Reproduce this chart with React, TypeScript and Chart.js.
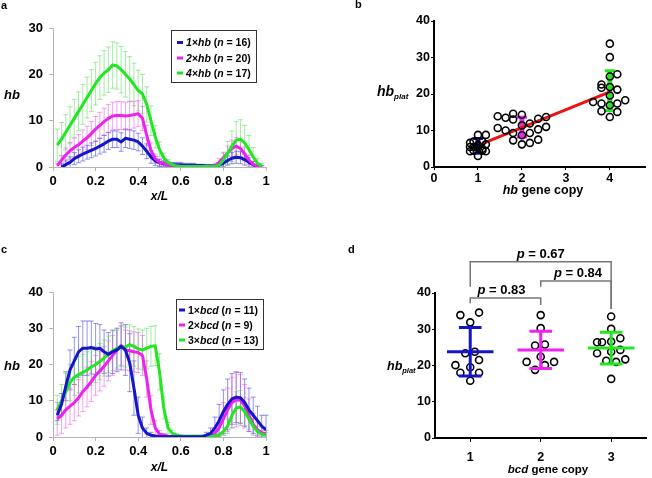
import React, { useEffect, useRef } from 'react';
import { Chart, registerables } from 'chart.js';
Chart.register(...registerables);

const FAM = '"Liberation Sans", Arial, Helvetica, sans-serif';
const BLUE = '#1414c8';
const MAGENTA = '#ee22ee';
const GREEN = '#22e622';
const BLUE_E = 'rgba(60,60,220,0.55)';
const MAGENTA_E = 'rgba(235,70,235,0.5)';
const GREEN_E = 'rgba(70,220,70,0.5)';

// ---------- Panel a ----------
const posA = [0.02,0.04,0.06,0.08,0.10,0.12,0.14,0.16,0.18,0.20,0.22,0.24,0.26,0.28,0.30,0.32,0.34,0.36,0.38,0.40,0.42,0.44,0.46,0.48,0.50,0.52,0.54,0.56,0.58,0.60,0.62,0.64,0.66,0.68,0.70,0.72,0.74,0.76,0.78,0.80,0.82,0.84,0.86,0.88,0.90,0.92,0.94,0.96,0.98];
const hb1 = [null,0,0.5,1.0,1.8,2.3,2.8,3.2,3.6,4.0,4.5,5.0,5.6,6.0,6.0,5.4,6.2,6.0,5.8,5.4,4.5,3.4,2.2,1.3,0.9,0.7,0.6,0.5,0.5,0.5,0.4,0.4,0.4,0.3,0.3,0.2,0.2,0.2,0.4,0.8,1.4,1.9,2.1,2.0,1.6,1.0,0.5,0.1,0];
const hb1Err = [null,0.8,1.0,1.2,1.3,1.4,1.5,1.5,1.6,1.6,1.7,1.8,1.8,1.8,1.8,2.0,2.0,2.0,2.0,1.9,1.8,1.6,1.4,1.0,0.8,0.6,0.5,0.5,0.5,0.5,0.4,0.4,0.4,0.3,0.3,0.3,0.3,0.3,0.5,0.8,1.0,1.2,1.3,1.3,1.2,1.0,0.7,0.4,0.3];
const hb2 = [0.3,1.5,2.6,3.5,4.2,4.8,5.6,6.3,7.2,8.2,9.0,9.8,10.5,11.0,11.1,11.1,11.0,11.1,11.3,11.5,10.5,6.8,3.6,1.8,1.0,0.8,0.5,0.3,0.2,0.1,0.1,0.1,0.1,0.1,0.1,0.1,0.1,0.3,1.0,2.0,3.0,4.0,4.5,4.0,2.8,1.5,0.6,0.2,0.1];
const hb2Err = [0.5,1.0,1.5,1.8,2.0,2.2,2.4,2.5,2.6,2.7,2.8,2.9,3.0,3.0,3.0,3.0,3.0,3.0,2.9,2.8,2.6,2.2,1.6,1.0,0.7,0.5,0.4,0.3,0.3,0.2,0.2,0.2,0.2,0.2,0.2,0.2,0.2,0.4,0.8,1.2,1.5,1.8,1.9,1.8,1.5,1.0,0.6,0.3,0.2];
const hb4 = [4.7,6.0,7.5,9.0,10.5,12.0,13.5,15.0,16.5,18.0,19.3,20.3,21.0,22.0,21.8,21.0,20.0,19.0,17.8,16.5,15.8,13.5,10.0,6.5,3.8,2.0,1.0,0.5,0.2,0.1,0.1,0.1,0.1,0.1,0.1,0.1,0.1,0.1,0.4,1.5,3.0,4.5,5.8,6.0,5.2,3.8,2.2,0.8,0.2];
const hb4Err = [3.5,3.6,3.8,4.0,4.1,4.2,4.3,4.4,4.5,4.6,4.7,4.8,4.9,5.0,5.0,5.0,4.9,4.8,4.6,4.4,4.2,3.8,3.2,2.4,1.6,1.0,0.6,0.4,0.2,0.2,0.2,0.2,0.2,0.2,0.2,0.2,0.2,0.2,0.6,1.5,2.5,3.3,4.0,4.2,3.8,3.0,2.0,1.0,0.6];
const copiesA = ['1', '2', '4'];
const nA = [16, 20, 17];
const xTicksA = [0, 0.2, 0.4, 0.6, 0.8, 1];
const yTicksA = [0, 10, 20, 30];

// ---------- Panel c ----------
const posC = [0.02,0.04,0.06,0.08,0.10,0.12,0.14,0.16,0.18,0.20,0.22,0.24,0.26,0.28,0.30,0.32,0.34,0.36,0.38,0.40,0.42,0.44,0.46,0.48,0.50,0.52,0.54,0.56,0.58,0.60,0.62,0.64,0.66,0.68,0.70,0.72,0.74,0.76,0.78,0.80,0.82,0.84,0.86,0.88,0.90,0.92,0.94,0.96,0.98,1.00];
const bcd1 = [6.0,9.0,14.0,18.5,21.0,23.5,24.5,24.5,24.7,24.3,24.5,23.5,22.8,23.5,24.0,25.0,24.0,20.5,13.5,6.0,2.5,1.0,0.5,0.2,0.1,0.1,0.1,0.1,0.1,0.1,0.1,0.1,0.1,0.1,0.1,0.5,1.0,2.5,4.5,7.0,9.0,10.5,11.0,10.8,9.5,7.5,6.0,4.5,3.0,2.0];
const bcd1Err = [1.5,3.0,4.0,5.5,6.5,7.0,7.5,7.5,7.3,7.0,6.5,6.0,6.0,6.0,6.0,6.5,7.0,8.0,7.5,5.0,3.0,1.5,0.8,0.4,0.3,0.3,0.3,0.3,0.3,0.3,0.3,0.3,0.3,0.3,0.3,0.8,1.5,3.0,4.5,6.0,7.0,7.0,7.0,7.0,6.5,6.0,5.0,4.0,3.0,4.0];
const bcd2 = [5.0,6.0,7.5,8.5,9.5,10.8,12.5,13.8,15.3,17.0,18.2,19.5,21.0,22.5,24.0,25.3,24.0,23.8,23.5,23.3,22.5,16.0,7.5,2.5,0.8,0.5,0.2,0.1,0.1,0.1,0.1,0.1,0.1,0.1,0.1,0.1,0.3,1.0,2.5,5.0,7.5,9.5,10.3,10.2,8.5,6.0,3.5,2.0,1.2,0.8];
const bcd2Err = [4.5,5.0,5.0,5.0,5.0,5.0,5.5,5.5,5.5,5.5,5.5,5.5,5.5,5.5,5.5,5.5,5.5,5.5,5.5,5.5,5.5,5.0,4.0,2.0,1.0,0.5,0.3,0.2,0.2,0.2,0.2,0.2,0.2,0.2,0.2,0.2,0.5,1.5,3.0,4.5,6.0,7.0,7.5,7.0,6.0,4.5,3.0,2.0,1.5,1.0];
const bcd3 = [7.5,10.0,12.5,15.0,16.5,17.2,17.8,18.5,19.3,20.0,20.8,21.8,22.8,23.8,24.5,25.0,24.8,25.5,25.0,24.3,24.0,24.5,25.0,25.2,18.0,8.0,2.5,1.0,0.5,0.3,0.2,0.2,0.2,0.2,0.2,0.2,0.2,0.3,0.6,1.5,3.0,6.0,8.0,8.3,7.0,5.0,3.0,1.5,0.8,0.5];
const bcd3Err = [4.0,4.5,5.0,5.0,5.0,5.0,5.0,5.0,5.0,5.0,5.0,5.0,5.0,5.5,5.5,5.5,5.5,5.5,5.5,5.5,5.5,5.5,5.5,5.5,5.0,3.0,1.5,0.8,0.4,0.3,0.3,0.3,0.3,0.3,0.3,0.3,0.3,0.3,0.5,1.0,2.0,3.5,4.5,4.5,4.0,3.0,2.0,1.5,1.0,0.8];
const copiesC = ['1', '2', '3'];
const nC = [11, 9, 13];
const yTicksC = [0, 10, 20, 30, 40];

// ---------- Panel b ----------
const b1X = [0.82,0.82,0.82,0.9,0.9,0.9,1.0,1.0,1.0,1.1,1.1,1.1,1.18,1.18,1.18,1.0];
const b1Y = [6.6,5.5,4.3,7.0,5.5,4.5,8.8,6.0,3.0,7.0,5.0,4.5,8.8,6.2,4.3,5.2];
const b2X = [1.45,1.45,1.63,1.63,1.8,1.8,1.8,1.8,2.0,2.0,2.0,2.0,2.18,2.18,2.18,2.37,2.37,2.37,2.55,2.55];
const b2Y = [13.9,10.7,13.5,10.0,14.6,13.0,9.3,7.3,14.3,11.4,8.7,6.2,11.9,9.3,6.6,13.2,10.3,7.5,13.7,11.0];
const b4X = [3.62,3.81,3.81,3.81,3.81,4.0,4.0,4.0,4.0,4.0,4.0,4.0,4.17,4.17,4.17,4.17,4.35];
const b4Y = [17.8,22.6,21.7,17.4,15.3,33.8,30.1,24.8,21.9,19.6,16.9,13.7,25.4,21.2,17.4,15.1,18.3];
const bCopies = [1, 2, 4];
const bMean = [5.8, 10.9, 20.9];
const bSd = [2.0, 2.7, 5.5];
const bColors = [BLUE, MAGENTA, GREEN];
const fitX = [1.1, 4.0];
const fitY = [6.4, 20.6];
const xTicksB = [0, 1, 2, 3, 4];
const yTicksB = [0, 10, 20, 30, 40];

// ---------- Panel d ----------
const d1X = [0.86,1.125,1.0,0.93,1.065,1.125,0.79,1.0,0.86,1.125,1.0];
const d1Y = [33.9,34.6,31.9,23.4,23.8,21.5,20.1,19.5,18.0,18.0,15.8];
const d2X = [2.0,2.0,1.92,2.06,2.0,1.8,2.19,2.06,1.92];
const d2Y = [33.9,30.3,25.5,25.8,22.4,21.0,21.0,20.1,18.8];
const d3X = [3.0,3.0,2.8,2.87,3.0,3.13,2.8,3.0,3.13,2.93,3.07,3.2,3.0];
const d3Y = [33.5,30.1,26.4,26.4,26.6,27.5,23.4,23.8,24.3,21.3,21.0,21.7,16.3];
const dCopies = [1, 2, 3];
const dMean = [23.8, 24.3, 24.8];
const dSd = [6.7, 5.15, 4.4];
const dColors = [BLUE, MAGENTA, GREEN];
const pLabels = ['0.83', '0.84', '0.67'];
const pFrom = [1, 2, 1];
const pTo = [2, 3, 3];
const pLevel = [38.6, 43.3, 48.6];
const pDropL = [37.2, 41.7, 41.7];
const pDropR = [36.7, 35.6, 35.6];
const xTicksD = [1, 2, 3];
const yTicksD = [0, 10, 20, 30, 40];

// ---------- helpers ----------
type Run = { t: string; it?: boolean; size?: number; dy?: number; bold?: boolean };
function fnt(size: number, it?: boolean, bold = true) {
  return `${it ? 'italic ' : ''}${bold ? 'bold ' : ''}${size}px ${FAM}`;
}
function drawRuns(ctx: CanvasRenderingContext2D, list: Run[], x: number, y: number, align: 'left' | 'center' | 'right', base: number, color = '#000') {
  ctx.save();
  ctx.fillStyle = color;
  ctx.textAlign = 'left';
  ctx.textBaseline = 'alphabetic';
  let w = 0;
  for (const r of list) { ctx.font = fnt(r.size ?? base, r.it, r.bold ?? true); w += ctx.measureText(r.t).width; }
  let cx = align === 'left' ? x : align === 'center' ? x - w / 2 : x - w;
  for (const r of list) {
    ctx.font = fnt(r.size ?? base, r.it, r.bold ?? true);
    ctx.fillText(r.t, cx, y + (r.dy ?? 0));
    cx += ctx.measureText(r.t).width;
  }
  ctx.restore();
}
function drawLegend(ctx: CanvasRenderingContext2D, bx: number, by: number, bw: number, bh: number, colors: string[], items: Run[][], rows: number[], dashX: number, textX: number, size: number) {
  ctx.save();
  ctx.fillStyle = '#fff';
  ctx.fillRect(bx, by, bw, bh);
  ctx.strokeStyle = '#333';
  ctx.lineWidth = 1;
  ctx.strokeRect(bx + 0.5, by + 0.5, bw, bh);
  items.forEach((runs, i) => {
    ctx.fillStyle = colors[i];
    ctx.fillRect(dashX, rows[i] - 1.5, 6, 3);
    drawRuns(ctx, runs, textX, rows[i] + size * 0.36, 'left', size);
  });
  ctx.restore();
}

function axis(o: { min: number; max: number; ticks: number[]; fit: number; horiz: boolean; color: string; width: number; tickLen: number; pad: number; size: number }) {
  return {
    type: 'linear',
    min: o.min,
    max: o.max,
    afterBuildTicks: (s: any) => { s.ticks = o.ticks.map((v) => ({ value: v })); },
    afterFit: (s: any) => { if (o.horiz) s.height = o.fit; else s.width = o.fit; },
    grid: { display: true, drawOnChartArea: false, drawTicks: true, tickLength: o.tickLen, color: o.color, lineWidth: 1 },
    border: { display: true, color: o.color, width: o.width },
    ticks: { color: '#000', font: { family: FAM, size: o.size, weight: 'bold' }, padding: o.pad, autoSkip: false, maxRotation: 0, minRotation: 0, callback: (v: any) => String(v) },
  };
}

const errorBars = {
  id: 'errorBars',
  beforeDatasetsDraw(chart: any) {
    const { ctx, chartArea: a, scales } = chart;
    ctx.save();
    ctx.beginPath();
    ctx.rect(a.left, a.top - 4, a.right - a.left + 4, a.bottom - a.top + 4);
    ctx.clip();
    chart.data.datasets.forEach((ds: any) => {
      if (!ds.errors) return;
      ctx.strokeStyle = ds.errColor;
      ctx.lineWidth = 1;
      ds.data.forEach((p: any, i: number) => {
        const e = ds.errors[i];
        if (p.y == null || e == null) return;
        const x = scales.x.getPixelForValue(p.x);
        const y1 = scales.y.getPixelForValue(p.y + e);
        const y2 = scales.y.getPixelForValue(p.y - e);
        ctx.beginPath();
        ctx.moveTo(x, y1); ctx.lineTo(x, y2);
        ctx.moveTo(x - 2.5, y1); ctx.lineTo(x + 2.5, y1);
        ctx.moveTo(x - 2.5, y2); ctx.lineTo(x + 2.5, y2);
        ctx.stroke();
      });
    });
    ctx.restore();
  },
};

const baseOpts = (padding: any, scales: any) => ({
  animation: false,
  responsive: false,
  devicePixelRatio: 1,
  events: [],
  layout: { padding },
  plugins: { legend: { display: false }, tooltip: { enabled: false } },
  scales,
});

const lineDs = (xs: number[], ys: (number | null)[], errs: (number | null)[], color: string, errColor: string) => ({
  data: xs.map((x, i) => ({ x, y: ys[i] })),
  borderColor: color,
  borderWidth: 3,
  pointRadius: 0,
  tension: 0,
  borderJoinStyle: 'round',
  fill: false,
  errors: errs,
  errColor,
});

const ptDs = (xs: number[], ys: number[]) => ({
  type: 'scatter',
  data: xs.map((x, i) => ({ x, y: ys[i] })),
  pointRadius: 3.5,
  pointBorderWidth: 1.6,
  borderColor: '#000',
  backgroundColor: 'rgba(255,255,255,0)',
  showLine: false,
});

function configA(): any {
  const items = copiesA.map((c, i) => [
    { t: `${c}×hb`, it: true }, { t: ' (' }, { t: 'n', it: true }, { t: ` = ${nA[i]})` },
  ]);
  return {
    type: 'line',
    data: { datasets: [
      lineDs(posA, hb4, hb4Err, GREEN, GREEN_E),
      lineDs(posA, hb2, hb2Err, MAGENTA, MAGENTA_E),
      lineDs(posA, hb1, hb1Err, BLUE, BLUE_E),
    ] },
    options: baseOpts({ left: 13, right: 386, top: 28, bottom: 281 }, {
      x: axis({ min: 0, max: 1, ticks: xTicksA, fit: 30, horiz: true, color: '#b4b4b4', width: 1, tickLen: 4, pad: 3, size: 13 }),
      y: axis({ min: 0, max: 30, ticks: yTicksA, fit: 40, horiz: false, color: '#b4b4b4', width: 1, tickLen: 4, pad: 6, size: 13 }),
    }),
    plugins: [errorBars, {
      id: 'annotA',
      afterDraw(chart: any) {
        const ctx = chart.ctx;
        const a = chart.chartArea;
        drawRuns(ctx, [{ t: 'a' }], 1, 9, 'left', 11);
        drawRuns(ctx, [{ t: 'hb', it: true }], 4, 99, 'left', 13);
        drawRuns(ctx, [{ t: 'x/L', it: true }], (a.left + a.right) / 2, 200, 'center', 12);
        drawLegend(ctx, 171, 30, 85, 52, [BLUE, MAGENTA, GREEN], items, [42.5, 58, 73], 177, 186, 10.5);
      },
    }],
  };
}

function configC(): any {
  const items = copiesC.map((c, i) => [
    { t: `${c}×` }, { t: 'bcd', it: true }, { t: ' (' }, { t: 'n', it: true }, { t: ` = ${nC[i]})` },
  ]);
  return {
    type: 'line',
    data: { datasets: [
      lineDs(posC, bcd1, bcd1Err, BLUE, BLUE_E),
      lineDs(posC, bcd3, bcd3Err, GREEN, GREEN_E),
      lineDs(posC, bcd2, bcd2Err, MAGENTA, MAGENTA_E),
    ] },
    options: baseOpts({ left: 13, right: 386, top: 292, bottom: 11 }, {
      x: axis({ min: 0, max: 1, ticks: xTicksA, fit: 30, horiz: true, color: '#b4b4b4', width: 1, tickLen: 4, pad: 3, size: 13 }),
      y: axis({ min: 0, max: 40, ticks: yTicksC, fit: 40, horiz: false, color: '#b4b4b4', width: 1, tickLen: 4, pad: 6, size: 13 }),
    }),
    plugins: [errorBars, {
      id: 'annotC',
      afterDraw(chart: any) {
        const ctx = chart.ctx;
        const a = chart.chartArea;
        drawRuns(ctx, [{ t: 'c' }], 1, 253, 'left', 11);
        drawRuns(ctx, [{ t: 'hb', it: true }], 4, 370, 'left', 13);
        drawRuns(ctx, [{ t: 'x/L', it: true }], (a.left + a.right) / 2, 471, 'center', 12);
        drawLegend(ctx, 176, 299, 87, 50, [BLUE, MAGENTA, GREEN], items, [310, 325, 340], 179, 188, 10.5);
      },
    }],
  };
}

function configB(): any {
  return {
    type: 'scatter',
    data: { datasets: [
      ptDs(b1X, b1Y),
      ptDs(b2X, b2Y),
      ptDs(b4X, b4Y),
      { type: 'line', data: fitX.map((x, i) => ({ x, y: fitY[i] })), borderColor: '#ee1111', borderWidth: 3, pointRadius: 0, showLine: true, fill: false },
    ] },
    options: baseOpts({ left: 394, right: 7, top: 21, bottom: 281 }, {
      x: axis({ min: 0, max: 4.8, ticks: xTicksB, fit: 30, horiz: true, color: '#000', width: 2, tickLen: 3, pad: 1, size: 12.5 }),
      y: axis({ min: 0, max: 40, ticks: yTicksB, fit: 40, horiz: false, color: '#000', width: 2, tickLen: 3, pad: 1, size: 12.5 }),
    }),
    plugins: [{
      id: 'barsB',
      beforeDatasetsDraw(chart: any) {
        const { ctx, scales } = chart;
        ctx.save();
        bCopies.forEach((c, i) => {
          const x = scales.x.getPixelForValue(c);
          const yt = scales.y.getPixelForValue(bMean[i] + bSd[i]);
          const yb = scales.y.getPixelForValue(bMean[i] - bSd[i]);
          ctx.strokeStyle = bColors[i];
          ctx.lineWidth = 5;
          ctx.beginPath(); ctx.moveTo(x, yt); ctx.lineTo(x, yb); ctx.stroke();
          ctx.lineWidth = 3;
          ctx.beginPath();
          ctx.moveTo(x - 5, yt); ctx.lineTo(x + 5, yt);
          ctx.moveTo(x - 5, yb); ctx.lineTo(x + 5, yb);
          ctx.stroke();
        });
        ctx.restore();
      },
      afterDraw(chart: any) {
        const ctx = chart.ctx;
        drawRuns(ctx, [{ t: 'b' }], 355, 8, 'left', 11);
        drawRuns(ctx, [{ t: 'hb', it: true, size: 14 }, { t: 'plat', it: true, size: 8, dy: 3 }], 377, 96, 'left', 14);
        drawRuns(ctx, [{ t: 'hb', it: true }, { t: ' gene copy' }], 543, 194, 'center', 12.5);
      },
    }],
  };
}

function configD(): any {
  return {
    type: 'scatter',
    data: { datasets: [ptDs(d1X, d1Y), ptDs(d2X, d2Y), ptDs(d3X, d3Y)] },
    options: baseOpts({ left: 395, right: 0, top: 293, bottom: 10 }, {
      x: axis({ min: 0.5, max: 3.5, ticks: xTicksD, fit: 30, horiz: true, color: '#000', width: 2, tickLen: 4, pad: 8, size: 12.5 }),
      y: axis({ min: 0, max: 40, ticks: yTicksD, fit: 40, horiz: false, color: '#000', width: 2, tickLen: 3, pad: 1, size: 12.5 }),
    }),
    plugins: [{
      id: 'barsD',
      afterDatasetsDraw(chart: any) {
        const { ctx, scales } = chart;
        ctx.save();
        dCopies.forEach((c, i) => {
          const x = scales.x.getPixelForValue(c);
          const xm1 = scales.x.getPixelForValue(c - 0.33);
          const xm2 = scales.x.getPixelForValue(c + 0.33);
          const xc1 = scales.x.getPixelForValue(c - 0.16);
          const xc2 = scales.x.getPixelForValue(c + 0.16);
          const ym = scales.y.getPixelForValue(dMean[i]);
          const yt = scales.y.getPixelForValue(dMean[i] + dSd[i]);
          const yb = scales.y.getPixelForValue(dMean[i] - dSd[i]);
          ctx.strokeStyle = dColors[i];
          ctx.lineWidth = 3;
          ctx.beginPath();
          ctx.moveTo(x, yt); ctx.lineTo(x, yb);
          ctx.moveTo(xm1, ym); ctx.lineTo(xm2, ym);
          ctx.moveTo(xc1, yt); ctx.lineTo(xc2, yt);
          ctx.moveTo(xc1, yb); ctx.lineTo(xc2, yb);
          ctx.stroke();
        });
        ctx.restore();
      },
      afterDraw(chart: any) {
        const { ctx, scales } = chart;
        const sx = scales.x, sy = scales.y;
        ctx.save();
        ctx.strokeStyle = '#777';
        ctx.lineWidth = 1.5;
        pLabels.forEach((lab, i) => {
          const x1 = sx.getPixelForValue(pFrom[i]);
          const x2 = sx.getPixelForValue(pTo[i]);
          const y = sy.getPixelForValue(pLevel[i]);
          ctx.beginPath();
          ctx.moveTo(x1, sy.getPixelForValue(pDropL[i]));
          ctx.lineTo(x1, y);
          ctx.lineTo(x2, y);
          ctx.lineTo(x2, sy.getPixelForValue(pDropR[i]));
          ctx.stroke();
          const cx = i === 1 ? sx.getPixelForValue((pFrom[i] + pTo[i]) / 2) + 2 : sx.getPixelForValue((pFrom[i] + pTo[i]) / 2);
          drawRuns(ctx, [{ t: 'p', it: true }, { t: ` = ${lab}` }], i === 0 ? cx - 4 : cx, y - 4, 'center', 13);
        });
        ctx.restore();
        drawRuns(ctx, [{ t: 'd' }], 348, 253, 'left', 11);
        drawRuns(ctx, [{ t: 'hb', it: true, size: 12.5 }, { t: 'plat', it: true, size: 7.5, dy: 3 }], 387, 370, 'left', 12.5);
        drawRuns(ctx, [{ t: 'bcd', it: true }, { t: ' gene copy' }], 548, 473, 'center', 11.5);
      },
    }],
  };
}

export default function App() {
  const ra = useRef<HTMLCanvasElement>(null);
  const rb = useRef<HTMLCanvasElement>(null);
  const rc = useRef<HTMLCanvasElement>(null);
  const rd = useRef<HTMLCanvasElement>(null);
  useEffect(() => {
    const charts = [
      new Chart(ra.current as HTMLCanvasElement, configA()),
      new Chart(rb.current as HTMLCanvasElement, configB()),
      new Chart(rc.current as HTMLCanvasElement, configC()),
      new Chart(rd.current as HTMLCanvasElement, configD()),
    ];
    return () => charts.forEach((c) => c.destroy());
  }, []);
  const cs: React.CSSProperties = { position: 'absolute', left: 0, top: 0, width: 652, height: 478 };
  return (
    <div style={{ position: 'fixed', left: 0, top: 0, width: 652, height: 478, background: '#fff', overflow: 'hidden' }}>
      <canvas ref={ra} width={652} height={478} style={cs} />
      <canvas ref={rb} width={652} height={478} style={cs} />
      <canvas ref={rc} width={652} height={478} style={cs} />
      <canvas ref={rd} width={652} height={478} style={cs} />
    </div>
  );
}
